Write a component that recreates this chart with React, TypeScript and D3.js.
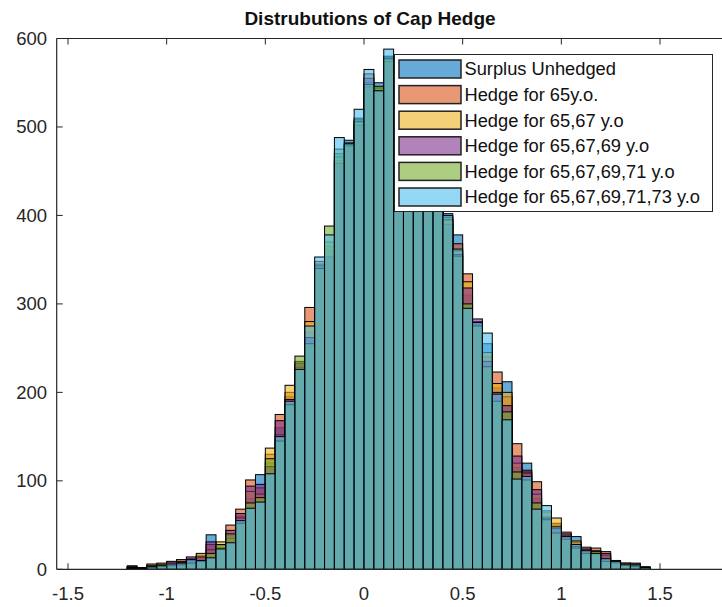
import React from 'react';
import * as d3 from 'd3';

// Histogram bins: left edges start at -1.2, each bin 0.05 wide
const binStart = -1.2;
const binWidth = 0.05;

const seriesNames = [
  'Surplus Unhedged',
  'Hedge for 65y.o.',
  'Hedge for 65,67 y.o',
  'Hedge for 65,67,69 y.o',
  'Hedge for 65,67,69,71 y.o',
  'Hedge for 65,67,69,71,73 y.o',
];

const seriesColors = ['#0072BD', '#D95319', '#EDB120', '#7E2F8E', '#77AC30', '#4DBEEE'];

// Counts per bin for each strategy
const surplusUnhedged = [
  2, 1, 3, 4, 5, 6, 9, 12, 39, 25,
  38, 60, 80, 107, 120, 160, 195, 230, 268, 346,
  360, 470, 485, 510, 550, 550, 580, 565, 548, 520,
  485, 450, 402, 378, 310, 278, 255, 205, 212, 115,
  120, 80, 64, 50, 36, 37, 20, 19, 14, 8,
  6, 5, 2,
];
const hedge65 = [
  4, 0, 5, 6, 7, 11, 12, 16, 28, 27,
  50, 68, 101, 92, 130, 175, 200, 235, 296, 342,
  365, 462, 480, 505, 560, 542, 576, 570, 555, 525,
  490, 445, 396, 368, 334, 280, 240, 223, 195, 142,
  112, 99, 60, 52, 42, 30, 25, 24, 20, 10,
  7, 7, 3,
];
const hedge6567 = [
  3, 2, 6, 7, 8, 9, 10, 18, 22, 31,
  35, 58, 88, 85, 137, 152, 208, 228, 280, 348,
  370, 466, 479, 508, 545, 544, 578, 560, 545, 515,
  482, 442, 398, 360, 325, 276, 245, 210, 200, 120,
  108, 85, 66, 58, 38, 32, 22, 21, 16, 9,
  5, 6, 1,
];
const hedge656769 = [
  1, 1, 4, 3, 9, 8, 14, 14, 31, 24,
  44, 63, 94, 96, 116, 168, 192, 233, 262, 344,
  353, 459, 478, 502, 555, 540, 574, 558, 540, 512,
  478, 440, 390, 356, 318, 283, 235, 200, 185, 128,
  110, 90, 58, 46, 40, 26, 23, 17, 18, 7,
  6, 4, 2,
];
const hedge65676971 = [
  2, 0, 2, 5, 4, 5, 7, 9, 18, 28,
  40, 52, 75, 81, 125, 145, 186, 241, 255, 340,
  388, 475, 482, 506, 548, 546, 577, 555, 550, 510,
  486, 448, 395, 354, 300, 275, 229, 190, 178, 110,
  101, 75, 56, 41, 34, 24, 18, 20, 9, 8,
  7, 3, 1,
];
const hedge6567697173 = [
  1, 1, 3, 4, 6, 7, 11, 10, 13, 23,
  30, 55, 69, 76, 108, 150, 190, 226, 275, 353,
  378, 488, 481, 520, 565, 541, 588, 562, 546, 518,
  480, 444, 400, 362, 295, 279, 267, 198, 169, 102,
  105, 68, 72, 48, 37, 28, 21, 18, 12, 9,
  5, 5, 2,
];

const xTickValues = [-1.5, -1, -0.5, 0, 0.5, 1, 1.5];
const yTickValues = [0, 100, 200, 300, 400, 500, 600];

const allSeries = [
  surplusUnhedged,
  hedge65,
  hedge6567,
  hedge656769,
  hedge65676971,
  hedge6567697173,
];

const W = 722;
const H = 607;
const FONT = '"Liberation Sans", Arial, Helvetica, sans-serif';
const AXIS = '#262626';

export default function App() {
  const x = d3.scaleLinear().domain([-1.5, 1.5]).range([68, 660]);
  const y = d3.scaleLinear().domain([0, 600]).range([569.3, 38.5]);
  const left = 56.7;
  const right = W + 5;
  const top = y(600);
  const bottom = y(0);
  const tickLen = 6;

  const legendX = 394.5;
  const legendY = 54.5;
  const legendW = 318;
  const legendH = 157;
  const rowH = 25.6;

  return (
    <svg
      width={W}
      height={H}
      style={{ position: 'absolute', left: 0, top: 0, background: '#fff' }}
      fontFamily={FONT}
    >
      <rect x={0} y={0} width={W} height={H} fill="#fff" />

      {/* histogram bars, one translucent layer per strategy */}
      {allSeries.map((counts, s) => (
        <g key={s}>
          {counts.map((c, i) => {
            if (c <= 0) return null;
            const x0 = x(binStart + i * binWidth);
            const x1 = x(binStart + (i + 1) * binWidth);
            return (
              <rect
                key={i}
                x={x0}
                y={y(c)}
                width={x1 - x0}
                height={y(0) - y(c)}
                fill={seriesColors[s]}
                fillOpacity={0.6}
                stroke="#000"
                strokeWidth={1}
              />
            );
          })}
        </g>
      ))}

      {/* axes box lines */}
      <line x1={left} x2={left} y1={top} y2={bottom} stroke={AXIS} strokeWidth={1.2} />
      <line x1={left} x2={right} y1={bottom} y2={bottom} stroke={AXIS} strokeWidth={1.2} />
      <line x1={left} x2={right} y1={top} y2={top} stroke={AXIS} strokeWidth={1.2} />

      {/* x ticks and labels */}
      {xTickValues.map((v) => (
        <g key={'x' + v}>
          <line x1={x(v)} x2={x(v)} y1={bottom} y2={bottom - tickLen} stroke={AXIS} strokeWidth={1} />
          <line x1={x(v)} x2={x(v)} y1={top} y2={top + tickLen} stroke={AXIS} strokeWidth={1} />
          <text
            x={x(v)}
            y={600}
            textAnchor="middle"
            fontSize={18.5}
            fill={AXIS}
          >
            {String(v)}
          </text>
        </g>
      ))}

      {/* y ticks and labels */}
      {yTickValues.map((v) => (
        <g key={'y' + v}>
          <line x1={left} x2={left + tickLen} y1={y(v)} y2={y(v)} stroke={AXIS} strokeWidth={1} />
          <text
            x={47}
            y={y(v)}
            dy="0.35em"
            textAnchor="end"
            fontSize={18.5}
            fill={AXIS}
          >
            {String(v)}
          </text>
        </g>
      ))}

      {/* title */}
      <text
        x={370}
        y={24.5}
        textAnchor="middle"
        fontSize={19}
        fontWeight="bold"
        fill="#111"
      >
        Distrubutions of Cap Hedge
      </text>

      {/* legend */}
      <g>
        <rect
          x={legendX}
          y={legendY}
          width={legendW}
          height={legendH}
          fill="#fff"
          stroke={AXIS}
          strokeWidth={1}
        />
        {seriesNames.map((name, s) => {
          const ry = legendY + 5.5 + s * rowH;
          return (
            <g key={name}>
              <rect x={legendX + 4.5} y={ry} width={62} height={18} fill="#fff" />
              <rect
                x={legendX + 4.5}
                y={ry}
                width={62}
                height={18}
                fill={seriesColors[s]}
                fillOpacity={0.6}
                stroke="#222"
                strokeWidth={1.5}
              />
              <text x={legendX + 70} y={ry + 9} dy="0.35em" fontSize={18.3} fill="#111">
                {name}
              </text>
            </g>
          );
        })}
      </g>
    </svg>
  );
}
